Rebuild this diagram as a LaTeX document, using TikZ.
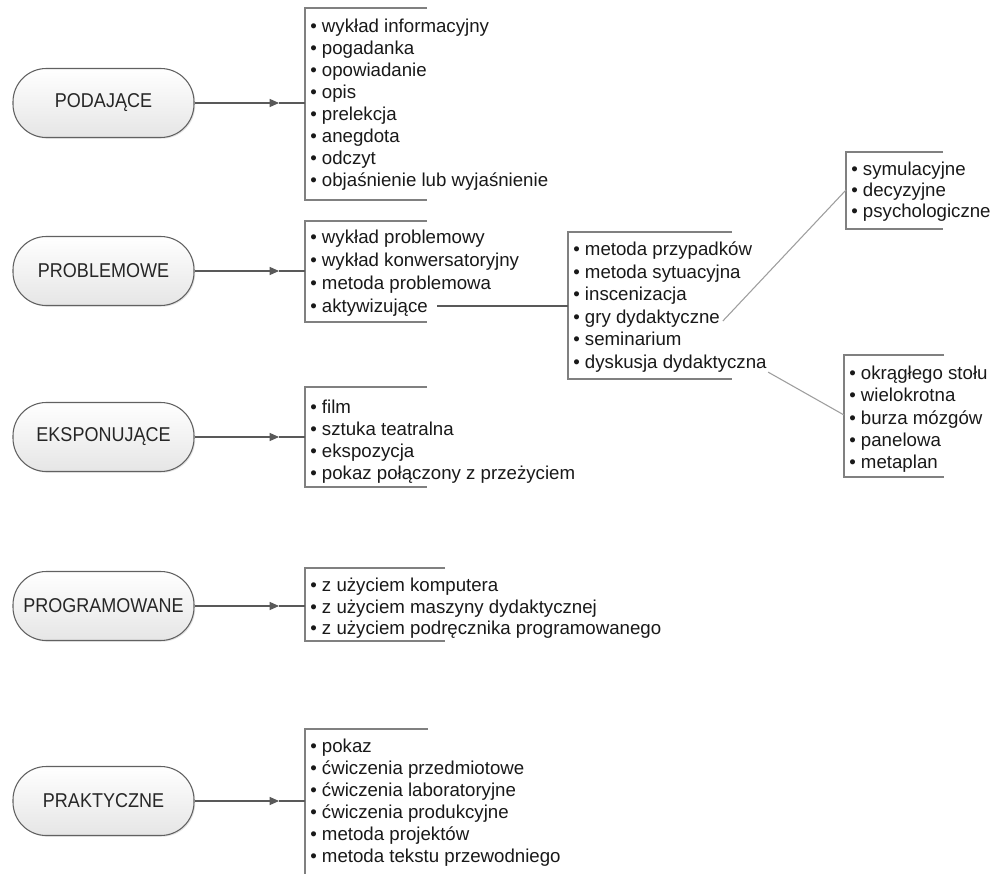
\documentclass[tikz,border=0pt]{standalone}
\usepackage{fontspec}
\setmainfont{Liberation Sans}
\newfontfamily\pillfont{Liberation Sans}[FakeStretch=0.9]
\usetikzlibrary{arrows.meta,shadows}
\begin{document}
\begin{tikzpicture}[x=0.75pt,y=-0.75pt,
  pill/.style={draw=black!62, line width=0.8pt, top color=white, bottom color=black!10,
    rounded corners=25pt, minimum width=135.75pt, minimum height=51.75pt, inner sep=0pt,
    font=\pillfont\fontsize{15}{17}\selectfont, text=black!85,
    drop shadow={opacity=0.22, shadow xshift=0.9pt, shadow yshift=-0.9pt}},
  item/.style={anchor=base west, inner sep=0pt, font=\fontsize{14}{16}\selectfont, text=black!90},
  bracket/.style={draw=black!50, line width=0.8pt},
  conn/.style={draw=black!65, line width=0.9pt},
  tip/.style={-{Triangle[length=7pt,width=6pt]}},
  diag/.style={draw=black!38, line width=0.8pt}]
\fill[white] (0,0) rectangle (994,873);
\useasboundingbox (0,0) rectangle (994,873);

% ---------- pills ----------
\node[pill] (p1) at (103.5,103) {PODAJĄCE};
\node[pill] (p2) at (103.5,271) {PROBLEMOWE};
\node[pill] (p3) at (103.5,437) {EKSPONUJĄCE};
\node[pill] (p4) at (103.5,606) {PROGRAMOWANE};
\node[pill] (p5) at (103.5,801) {PRAKTYCZNE};

% ---------- box 1 ----------
\draw[bracket] (427,8) -- (305,8) -- (305,200) -- (427,200);
\node[item] (a1) at (310,33) {• wykład informacyjny};
\node[item] (a2) at (310,55) {• pogadanka};
\node[item] (a3) at (310,77) {• opowiadanie};
\node[item] (a4) at (310,99) {• opis};
\node[item] (a5) at (310,121) {• prelekcja};
\node[item] (a6) at (310,143) {• anegdota};
\node[item] (a7) at (310,165) {• odczyt};
\node[item] (a8) at (310,187) {• objaśnienie lub wyjaśnienie};

% ---------- box 2 ----------
\draw[bracket] (427,221) -- (305,221) -- (305,322) -- (427,322);
\node[item] (b1) at (310,244) {• wykład problemowy};
\node[item] (b2) at (310,267) {• wykład konwersatoryjny};
\node[item] (b3) at (310,290) {• metoda problemowa};
\node[item] (b4) at (310,312) {• aktywizujące};

% ---------- box 3 ----------
\draw[bracket] (732,232) -- (568,232) -- (568,379) -- (732,379);
\node[item] (c1) at (573,256) {• metoda przypadków};
\node[item] (c2) at (573,278.4) {• metoda sytuacyjna};
\node[item] (c3) at (573,300.8) {• inscenizacja};
\node[item] (c4) at (573,323.2) {• gry dydaktyczne};
\node[item] (c5) at (573,345.6) {• seminarium};
\node[item] (c6) at (573,368) {• dyskusja dydaktyczna};

% ---------- box 4 ----------
\draw[bracket] (943,152) -- (846,152) -- (846,229) -- (943,229);
\node[item] (d1) at (851,176) {• symulacyjne};
\node[item] (d2) at (851,197) {• decyzyjne};
\node[item] (d3) at (851,218) {• psychologiczne};

% ---------- box 5 ----------
\draw[bracket] (944,355) -- (844,355) -- (844,477) -- (944,477);
\node[item] (e1) at (849,379) {• okrągłego stołu};
\node[item] (e2) at (849,401) {• wielokrotna};
\node[item] (e3) at (849,424) {• burza mózgów};
\node[item] (e4) at (849,446) {• panelowa};
\node[item] (e5) at (849,468) {• metaplan};

% ---------- box 6 ----------
\draw[bracket] (427,387) -- (305,387) -- (305,487) -- (427,487);
\node[item] (f1) at (310,413) {• film};
\node[item] (f2) at (310,435) {• sztuka teatralna};
\node[item] (f3) at (310,457) {• ekspozycja};
\node[item] (f4) at (310,479) {• pokaz połączony z przeżyciem};

% ---------- box 7 ----------
\draw[bracket] (445,568) -- (305,568) -- (305,641) -- (445,641);
\node[item] (g1) at (310,591) {• z użyciem komputera};
\node[item] (g2) at (310,613) {• z użyciem maszyny dydaktycznej};
\node[item] (g3) at (310,634) {• z użyciem podręcznika programowanego};

% ---------- box 8 ----------
\draw[bracket] (428,729) -- (305,729) -- (305,874);
\node[item] (h1) at (310,752) {• pokaz};
\node[item] (h2) at (310,774) {• ćwiczenia przedmiotowe};
\node[item] (h3) at (310,796) {• ćwiczenia laboratoryjne};
\node[item] (h4) at (310,818) {• ćwiczenia produkcyjne};
\node[item] (h5) at (310,840) {• metoda projektów};
\node[item] (h6) at (310,862) {• metoda tekstu przewodniego};

% ---------- connector end points ----------
\coordinate (k1) at (305,103);  \coordinate (t1) at (279,103);
\coordinate (k2) at (305,271);  \coordinate (t2) at (279,271);
\coordinate (k3) at (305,437);  \coordinate (t3) at (279,437);
\coordinate (k4) at (305,606);  \coordinate (t4) at (279,606);
\coordinate (k5) at (305,801);  \coordinate (t5) at (279,801);
\coordinate (k6) at (568,306);
\coordinate (k7) at (846,190);
\coordinate (k8) at (844,415);

\foreach \i in {1,...,5} {
  \draw[conn,tip] (p\i.east |- t\i) -- (t\i);
  \draw[conn] (t\i) -- (k\i);
}
\path (b4.east) ++(7pt,0) coordinate (b4e);
\draw[conn] (b4e |- k6) -- (k6);
\draw[diag] ([xshift=2pt,yshift=-2pt]c4.east) -- (k7);
\draw[diag] ([xshift=1pt]c6.south east) -- (k8);
\end{tikzpicture}
\end{document}
